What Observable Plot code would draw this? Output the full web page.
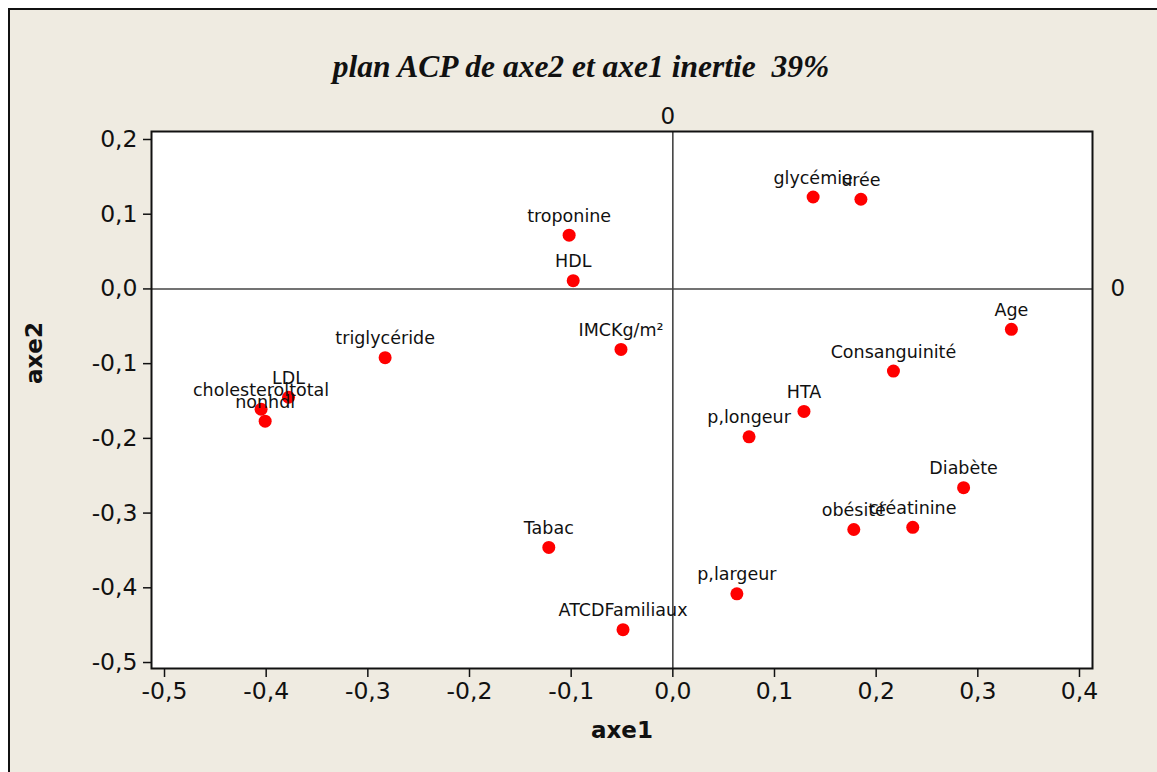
<!DOCTYPE html>
<html>
<head>
<meta charset="utf-8">
<script src="https://cdn.jsdelivr.net/npm/d3@7"></script>
<script src="https://cdn.jsdelivr.net/npm/@observablehq/plot@0.6"></script>
<style>
  html, body { margin: 0; padding: 0; background: #ffffff; overflow: hidden; }
  #page { position: relative; width: 1157px; height: 772px; }
  #bg { position: absolute; left: 8px; top: 8px; width: 1200px; height: 800px;
        border-left: 2px solid #111; border-top: 2px solid #111; background: #EFEBE1; }
  #chart { position: absolute; left: 0; top: 0; }
</style>
</head>
<body>
<div id="page"><div id="bg"></div><div id="chart"></div></div>
<script>
const variables = ["glycémie", "urée", "troponine", "HDL", "triglycéride", "IMCKg/m²", "Age",
  "Consanguinité", "HTA", "p,longeur", "LDL", "cholesteroltotal", "nonhdl", "Diabète",
  "obésité", "créatinine", "Tabac", "p,largeur", "ATCDFamiliaux"];
const axe1 = [0.138, 0.185, -0.102, -0.098, -0.283, -0.051, 0.333,
  0.217, 0.129, 0.075, -0.378, -0.405, -0.401, 0.286,
  0.178, 0.236, -0.122, 0.063, -0.049];
const axe2 = [0.123, 0.120, 0.072, 0.011, -0.092, -0.081, -0.054,
  -0.110, -0.164, -0.198, -0.145, -0.161, -0.177, -0.266,
  -0.322, -0.319, -0.346, -0.408, -0.456];
const xTicks = [-0.5, -0.4, -0.3, -0.2, -0.1, 0.0, 0.1, 0.2, 0.3, 0.4];
const yTicks = [-0.5, -0.4, -0.3, -0.2, -0.1, 0.0, 0.1, 0.2];
const titleText = "plan ACP de axe2 et axe1 inertie  39%";

const data = variables.map((v, i) => ({name: v, x: axe1[i], y: axe2[i]}));
const fmt = d => d3.format(".1f")(d).replace("−", "-").replace(".", ",");
const sans = "DejaVu Sans, Verdana, sans-serif";

const chart = Plot.plot({
  width: 1157,
  height: 772,
  marginLeft: 151,
  marginRight: 65,
  marginTop: 131,
  marginBottom: 104,
  style: {background: "transparent", fontFamily: sans, color: "#111"},
  x: {domain: [-0.5128, 0.4128]},
  y: {domain: [-0.508, 0.2107]},
  marks: [
    Plot.frame({fill: "white"}),
    Plot.ruleX([0], {stroke: "#444", strokeWidth: 1.6}),
    Plot.ruleY([0], {stroke: "#444", strokeWidth: 1.6}),
    Plot.axisX({ticks: xTicks, tickFormat: fmt, tickSize: 9, tickPadding: 5, fontSize: 23.5, label: null, stroke: "#111", strokeWidth: 1.5}),
    Plot.axisY({ticks: yTicks, tickFormat: fmt, tickSize: 8, tickPadding: 6, fontSize: 23.5, label: null, stroke: "#111", strokeWidth: 1.5}),
    Plot.dot(data, {x: "x", y: "y", r: 6.5, fill: "#FF0000", stroke: "none"}),
    Plot.text(data, {x: "x", y: "y", text: "name", dy: -19, fontSize: 17.5, fill: "#111", fontFamily: sans}),
    Plot.text(["0"], {x: 0, frameAnchor: "top", dy: -24, dx: -5, fontSize: 23, fill: "#111"}),
    Plot.text(["0"], {y: 0, frameAnchor: "right", dx: 18, textAnchor: "start", fontSize: 23, fill: "#111"}),
    Plot.text(["axe1"], {frameAnchor: "bottom", dy: 69, fontSize: 23, fontWeight: "bold", fill: "#111"}),
    Plot.text(["axe2"], {frameAnchor: "left", dx: -117, dy: -16, rotate: -90, fontSize: 23, fontWeight: "bold", fill: "#111"}),
    Plot.text([titleText], {frameAnchor: "top", dy: -77, dx: -41, fontSize: 31.5, fontWeight: "bold", fontStyle: "italic", fontFamily: "Liberation Serif, Times New Roman, serif", fill: "#111"}),
    Plot.frame({stroke: "#111", strokeWidth: 2})
  ]
});
document.getElementById("chart").appendChild(chart);
</script>
</body>
</html>
